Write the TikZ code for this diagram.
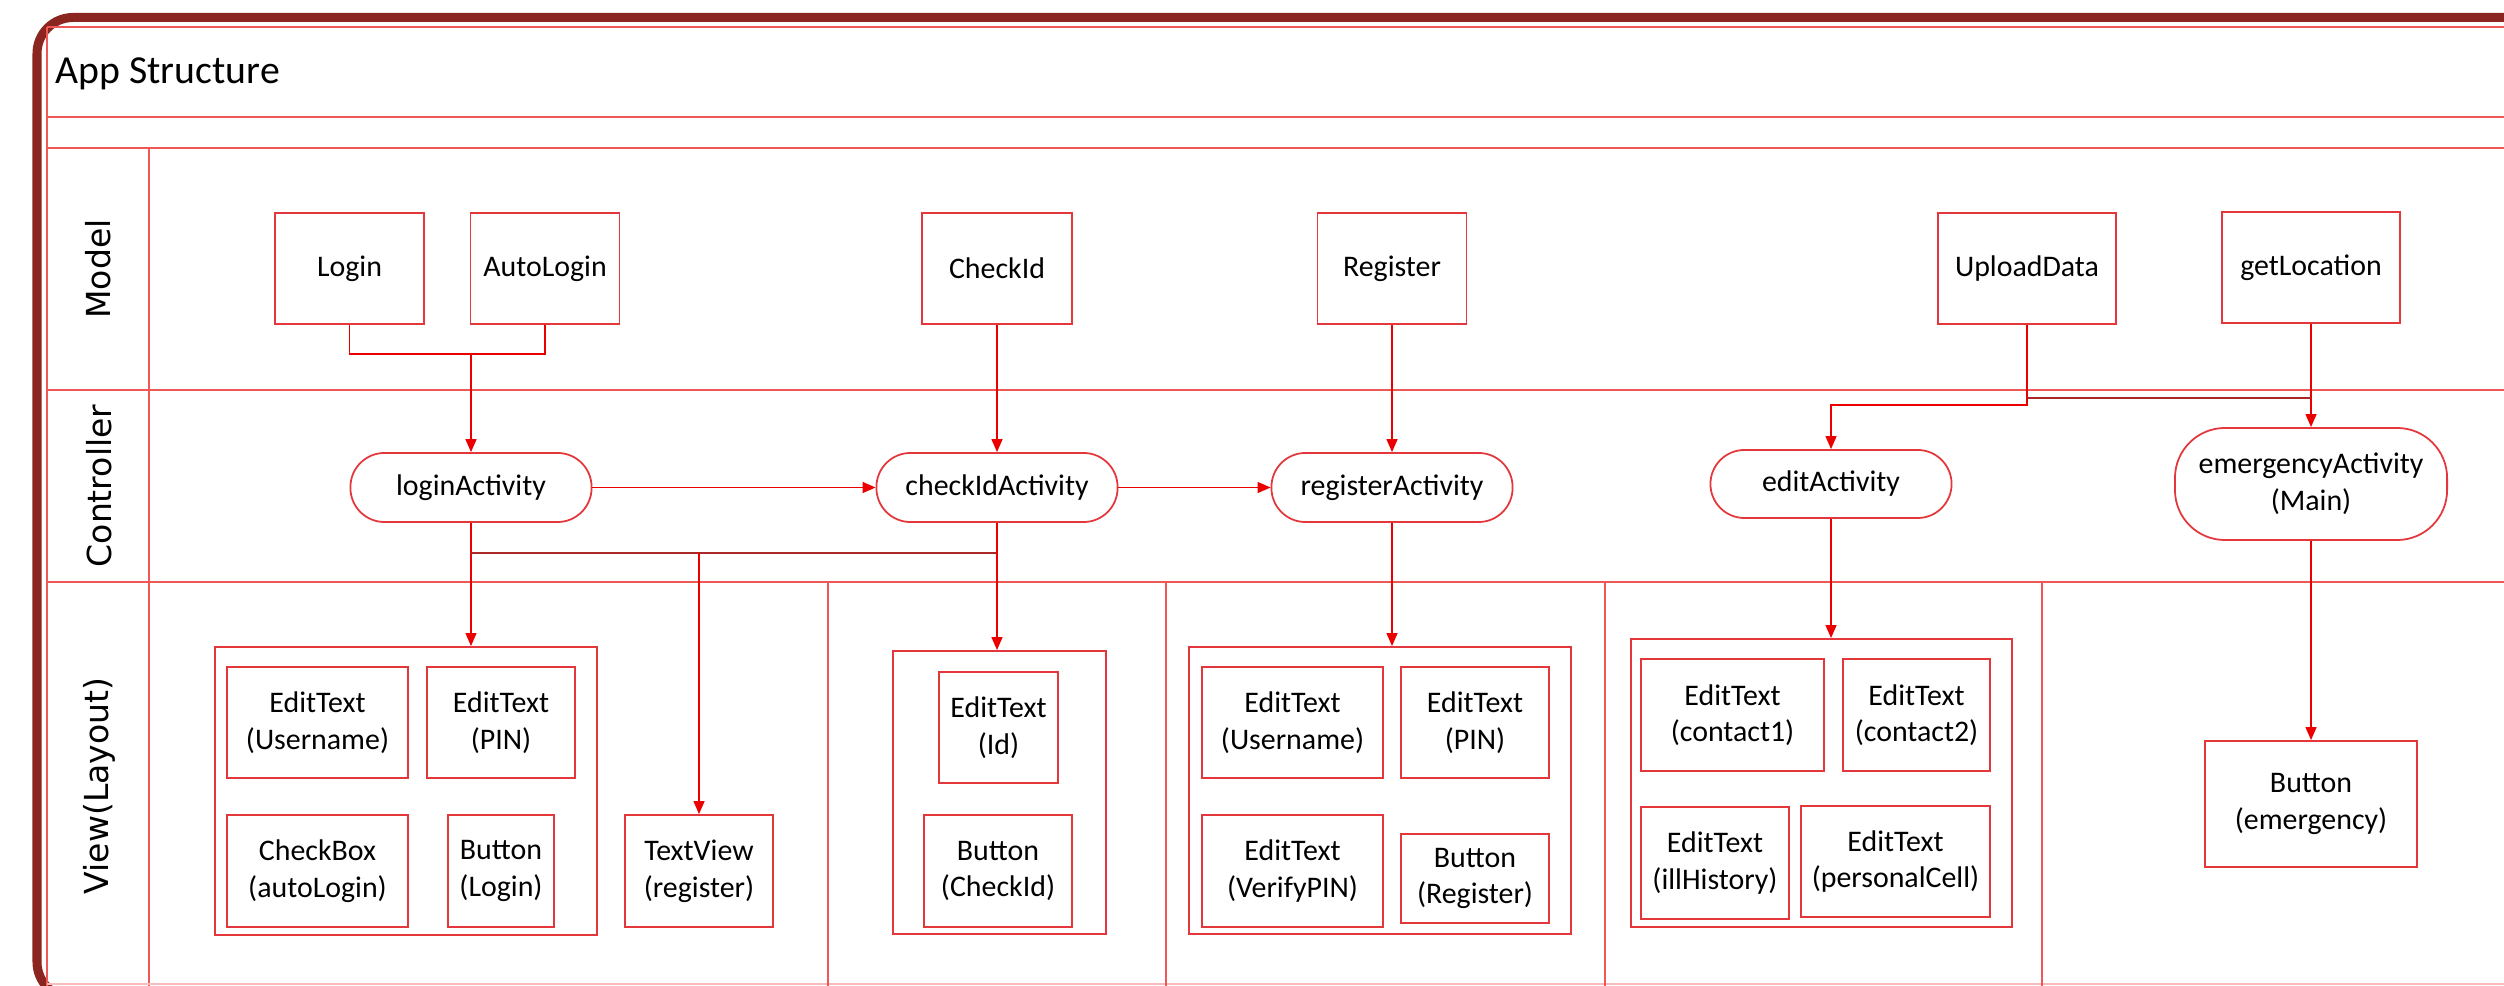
\documentclass[tikz,border=0pt]{standalone}
\usepackage{fontspec}
\setmainfont{Carlito}
\newfontfamily\lanefont{DejaVu Sans}
\usetikzlibrary{arrows.meta,positioning}
\definecolor{framered}{RGB}{139,37,32}
\definecolor{lanered}{RGB}{240,88,88}
\definecolor{boxred}{RGB}{228,55,60}
\definecolor{flowred}{RGB}{235,0,0}
\definecolor{joinred}{RGB}{170,40,40}

\begin{document}
\begin{tikzpicture}[x=0.01cm, y=-0.01cm,
                    every node/.append style = {font=\fontsize{8.5}{10.4}\selectfont, inner sep=0pt, align=center},
                    modelbox/.style = {draw=boxred, line width=0.5pt, minimum width=1.49cm, minimum height=1.11cm},
                    activity/.style = {draw=boxred, line width=0.5pt, rounded corners=0.34cm, minimum width=2.41cm, minimum height=0.69cm},
                    widget/.style = {draw=boxred, line width=0.5pt},
                    layoutbox/.style = {draw=boxred, line width=0.5pt},
                    lanelabel/.style = {rotate=90, font=\lanefont\fontsize{9.4}{11}\selectfont},
                    laneline/.style = {draw=lanered, line width=0.6pt},
                    link/.style = {draw=flowred, line width=0.4pt},
                    flow/.style = {link, -{Triangle[length=0.13cm, width=0.11cm]}},
                    joinline/.style = {draw=joinred, line width=0.4pt}]
                \useasboundingbox (0,0) rectangle (2504,986);
                \fill[white] (0,0) rectangle (2504,986);
                \begin{scope}
                    \clip (0,0) rectangle (2504,986);
                    \draw[framered, line width=0.09cm, rounded corners=0.36cm] (37,17.5) rectangle (2600,998);
                \end{scope}
                \draw[laneline, line width=0.8pt] (47,27) -- (2504,27);
                \draw[laneline] (47,27) -- (47,986);
                \draw[laneline, line width=0.8pt] (47,117) -- (2504,117);
                \draw[laneline, line width=0.8pt] (47,148) -- (2504,148);
                \draw[laneline, line width=0.45pt] (149,148) -- (149,986);
                \draw[laneline] (47,390) -- (2504,390);
                \draw[laneline] (47,582) -- (2504,582);
                \draw[lanered!40, line width=0.4pt] (47,984) -- (2504,984);
                \foreach \x in {828,1166,1605,2042}
                    \draw[laneline, line width=0.45pt] (\x,582) -- (\x,986);

                \node[anchor=west, font=\fontsize{11.3}{13}\selectfont] (title) at (55,74) {App Structure};
                \node[lanelabel] (lModel) at (98,269) {Model};
                \node[lanelabel] (lController) at (99,486) {Controller};
                \node[lanelabel] (lView) at (99,786) {View(Layout)};

                \node[modelbox] (Login) at (349.5,268.5) {Login};
                \node[modelbox] (AutoLogin) at (545,268.5) {AutoLogin};
                \node[modelbox, minimum width=1.50cm] (CheckId) at (997,268.5) {CheckId};
                \node[modelbox] (Register) at (1392,268.5) {Register};
                \node[modelbox, minimum width=1.78cm] (UploadData) at (2027,268.5) {UploadData};
                \node[modelbox, minimum width=1.78cm] (getLocation) at (2311,267.5) {getLocation};

                \node[activity] (loginActivity) at (471,487.5) {loginActivity};
                \node[activity] (checkIdActivity) at (997,487.5) {checkIdActivity};
                \node[activity] (registerActivity) at (1392,487.5) {registerActivity};
                \node[activity, minimum height=0.68cm] (editActivity) at (1831,484) {editActivity};
                \node[activity, minimum width=2.72cm, minimum height=1.12cm, rounded corners=0.5cm] (emergencyActivity) at (2311,484) {emergencyActivity\\(Main)};

                \node[layoutbox, minimum width=3.82cm, minimum height=2.88cm] (layLogin) at (406,791) {};
                \node[widget, minimum width=1.81cm, minimum height=1.11cm] (etUserLogin) at (317.5,722.5) {EditText\\(Username)};
                \node[widget, minimum width=1.48cm, minimum height=1.11cm] (etPinLogin) at (501,722.5) {EditText\\(PIN)};
                \node[widget, minimum width=1.81cm, minimum height=1.12cm] (cbAutoLogin) at (317.5,871) {CheckBox\\(autoLogin)};
                \node[widget, minimum width=1.06cm, minimum height=1.12cm] (btnLogin) at (501,871) {Button\\(Login)};
                \node[widget, minimum width=1.48cm, minimum height=1.12cm] (tvRegister) at (699,871) {TextView\\(register)};

                \node[layoutbox, minimum width=2.13cm, minimum height=2.83cm] (layCheck) at (999.5,792.5) {};
                \node[widget, minimum width=1.19cm, minimum height=1.11cm] (etId) at (998.5,727.5) {EditText\\(Id)};
                \node[widget, minimum width=1.48cm, minimum height=1.12cm] (btnCheckId) at (998,871) {Button\\(CheckId)};

                \node[layoutbox, minimum width=3.82cm, minimum height=2.87cm] (layRegister) at (1380,790.5) {};
                \node[widget, minimum width=1.81cm, minimum height=1.11cm] (etUserRegister) at (1292.5,722.5) {EditText\\(Username)};
                \node[widget, minimum width=1.48cm, minimum height=1.11cm] (etPinRegister) at (1475,722.5) {EditText\\(PIN)};
                \node[widget, minimum width=1.81cm, minimum height=1.12cm] (etVerifyPin) at (1292.5,871) {EditText\\(VerifyPIN)};
                \node[widget, minimum width=1.48cm, minimum height=0.89cm] (btnRegister) at (1475,878.5) {Button\\(Register)};

                \node[layoutbox, minimum width=3.81cm, minimum height=2.88cm] (layEdit) at (1821.5,783) {};
                \node[widget, minimum width=1.83cm, minimum height=1.12cm] (etContact1) at (1732.5,715) {EditText\\(contact1)};
                \node[widget, minimum width=1.47cm, minimum height=1.12cm] (etContact2) at (1916.5,715) {EditText\\(contact2)};
                \node[widget, minimum width=1.48cm, minimum height=1.12cm] (etIllHistory) at (1715,863) {EditText\\(illHistory)};
                \node[widget, minimum width=1.89cm, minimum height=1.11cm] (etPersonalCell) at (1895.5,861.5) {EditText\\(personalCell)};

                \node[widget, minimum width=2.12cm, minimum height=1.26cm] (btnEmergency) at (2311,804) {Button\\(emergency)};

                \coordinate (jLogin) at (471,354);
                \coordinate (jLeft) at (471,553);
                \coordinate (jRight) at (997,553);
                \coordinate (jUpload) at (2028,405);
                \coordinate (jLocation) at (2311,398);

                \draw[link] (Login.south) |- (jLogin) -| (AutoLogin.south);
                \draw[flow] (jLogin) -- (loginActivity.north);
                \draw[flow] (CheckId) -- (checkIdActivity);
                \draw[flow] (Register) -- (registerActivity);
                \draw[flow] (getLocation) -- (emergencyActivity);
                \draw[flow] (UploadData.south) -- (UploadData.south |- jUpload) -| (editActivity.north);
                \draw[joinline] (jLocation -| UploadData.south) -- (jLocation);
                \draw[flow] (loginActivity) -- (checkIdActivity);
                \draw[flow] (checkIdActivity) -- (registerActivity);
                \draw[flow] (loginActivity.south) -- (loginActivity.south |- layLogin.north);
                \draw[joinline] (jLeft) -- (jRight);
                \draw[flow] (tvRegister.north |- jLeft) -- (tvRegister.north);
                \draw[flow] (checkIdActivity.south) -- (checkIdActivity.south |- layCheck.north);
                \draw[flow] (registerActivity.south) -- (registerActivity.south |- layRegister.north);
                \draw[flow] (editActivity.south) -- (editActivity.south |- layEdit.north);
                \draw[flow] (emergencyActivity) -- (btnEmergency);
                \end{tikzpicture}
\end{document}
